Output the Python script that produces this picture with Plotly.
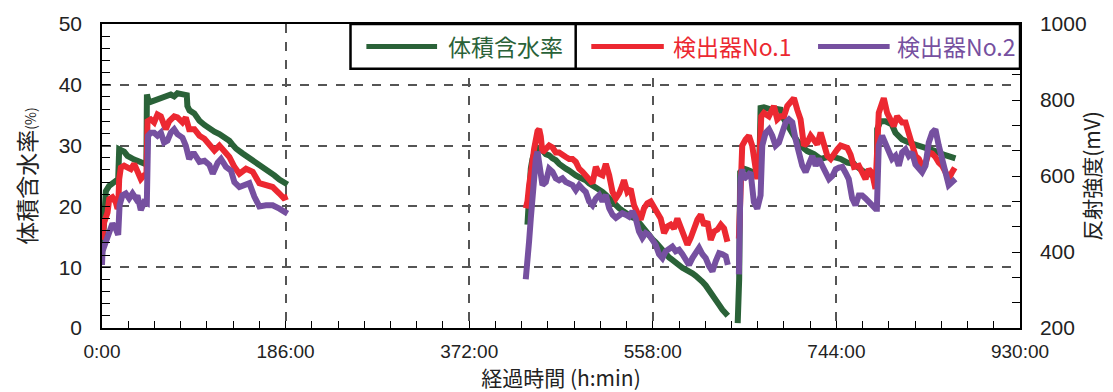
import plotly.graph_objects as go

# Elapsed time (h) and volumetric water content (%) / reflection intensity (mV)
green_t = [0, 1, 2.2, 3.9, 7.3, 10.6, 14, 16.4, 17.4, 19.1, 22.4, 25.8, 29.2, 32.6, 35.9, 39.3, 42.7, 45,
           45.5, 47, 49.4, 52.8, 56.2, 59.6, 62.9, 66.3, 69.7, 73.1, 76.4, 79.5, 81.5, 85.9, 86.5, 88.6,
           93.5, 98.7, 103.8, 108.8, 113.9, 118.9, 124, 129, 132, 135.8, 142.5, 149.3, 156, 162.7, 169.5,
           174.6, 179.7, 184, 188,
           None,
           431, 432.7, 434.4, 436.1, 437.8, 439.5, 441.2, 442.9, 446.2, 449.6, 453, 456.4, 459.7, 463.1,
           466.5, 469.9, 473.2, 476.6, 480, 483.4, 486.8, 490.1, 493.5, 496.9, 500.3, 503.7, 507, 510.4,
           513.8, 517.2, 520.6, 523.9, 527.3, 530.7, 534.1, 537.3, 540.7, 544, 547.4, 550.8, 554.2, 557.6,
           561, 564.3, 567.7, 571.1, 574.5, 577.8, 581.2, 584.6, 588, 591.4, 594.7, 598.1, 601.5, 604.9,
           608.3, 611.6, 615, 618.4, 621.8, 625.2, 628.5, 631.9, 634,
           None,
           644, 645.5, 646.5, 650.3, 653.7, 657.1, 660.4, 663.8, 665.5, 666.5, 667.2, 670.6, 674, 677.3,
           680.7, 684.1, 687.5, 689.2, 690.9, 694.2, 701, 707.7, 714.5, 721.3, 728, 734.8, 741.6, 748.3,
           755.1, 761.8, 763.3, 770.1, 776.8, 783.6, 785, 785.3, 788.6, 793.7, 797.1, 800, 803.8, 810.6,
           817.3, 824.1, 830.8, 837.6, 844.3, 851.1, 857.8, 864.6]
green_v = [11.8, 16, 19.5, 22.5, 23.4, 23.7, 24.0, 24.5, 29.4, 29.3, 29.0, 28.3, 27.9, 27.7, 27.5, 27.2, 27.0, 26.9,
           38.4, 37.5, 37.2, 37.4, 37.8, 37.9, 38.1, 38.2, 38.4, 38.1, 38.6, 38.5, 38.4, 38.3, 36.5, 35.8,
           35.3, 34.1, 33.4, 32.7, 32.3, 31.9, 31.4, 30.8, 30.2, 29.5, 28.7, 28.0, 27.3, 26.5, 25.7,
           25.1, 24.4, 24.0, 23.6,
           None,
           17.0, 22.4, 26.2, 27.8, 28.9, 29.5, 29.6, 29.5, 29.2, 28.6, 28.4, 27.9, 27.6, 27.0,
           26.5, 26.2, 25.9, 25.4, 25.1, 24.8, 24.6, 24.3, 23.8, 23.5, 23.2, 22.9, 22.4, 21.9,
           21.3, 20.8, 20.2, 19.7, 19.3, 18.9, 18.4, 18.2, 18.0, 17.3, 16.6, 15.9, 15.2, 14.6,
           14.1, 13.4, 12.7, 12.1, 11.6, 11.2, 10.7, 10.3, 9.9, 9.6, 9.4, 9.0, 8.6, 8.2,
           7.6, 7.0, 6.3, 5.5, 4.7, 3.8, 3.0, 2.4, 2.0,
           None,
           0.8, 8.0, 25.6, 26.2, 26.0, 25.8, 25.5, 25.3, 25.2, 30.8, 36.2, 36.3, 36.2, 36.0,
           35.8, 36.0, 35.9, 34.8, 34.3, 33.2, 31.6, 30.0, 29.1, 28.6, 27.8, 28.1, 28.1, 27.8,
           27.2, 27.0, 26.7, 25.9, 25.3, 25.1, 25.0, 32.7, 34.0, 34.0, 33.8, 33.5, 32.1, 31.0,
           30.5, 30.2, 29.7, 29.4, 29.1, 28.6, 28.2, 27.9]

det1_t = [0, 0.5, 2.2, 5.6, 7.3, 10.6, 14, 15.7, 16.4, 17.4, 19.1, 22.4, 25.8, 29.2, 32.6, 35.9, 39.3, 42.7, 45,
          46.1, 49.4, 52.8, 56.2, 59.6, 62.9, 64.6, 68, 73.1, 76.4, 81.5, 84.9, 88.3, 93.6, 98.7, 103.8,
          108.8, 113.9, 118.9, 124, 129, 134.1, 139.2, 145.9, 152.7, 159.4, 166.2, 172.9, 179.7, 184, 188,
          None,
          429.3, 431, 432.7, 434.4, 436.1, 437.8, 439.5, 441.2, 442.9, 444.5, 446.2, 449.6, 453, 456.4,
          459.7, 463.1, 466.5, 469.9, 473.2, 476.6, 480, 483.4, 486.8, 490.1, 493.5, 496.9, 500.3, 503.7,
          507, 510.4, 513.8, 517.2, 520.6, 523.9, 527.2, 528.8, 532.2, 535.6, 539, 542.4, 545.7, 549.1,
          552.5, 555.9, 559.3, 562.6, 566, 569.4, 572.8, 576.2, 579.5, 582.9, 586.3, 589.7, 593.1, 596.4,
          599.8, 603.2, 606.6, 610, 613.3, 616.7, 620.1, 623.5, 626.9, 630.2, 633.6,
          None,
          645.2, 646.9, 648.6, 652, 655.4, 658.7, 662.1, 663.8, 665.5, 667.9, 670.6, 675.6, 680.7, 684.1,
          687.5, 690.9, 694.2, 697.6, 701, 704.4, 707.7, 711.1, 714.5, 717.9, 721.3, 724.6, 728, 731.4,
          734.8, 738.2, 741.6, 744.9, 748.3, 751.7, 755.1, 758.4, 761.8, 766.7, 770.1, 773.5, 776.8, 780.2,
          783.6, 785.3, 786.9, 790.3, 792, 795.4, 798.8, 802.1, 805.5, 810.6, 814, 817.3, 820.7, 824.1,
          827.5, 830.8, 834.2, 837.6, 841, 844.3, 847.7, 851.1, 854.5, 857.8, 861.2, 863.9]
det1_mv = [432, 440, 478, 504, 539, 544, 531, 514, 517, 592, 622, 627, 622, 618, 632, 610, 592, 602, 605,
           744, 749, 741, 762, 757, 731, 723, 744, 757, 754, 741, 754, 723, 723, 706, 698,
           680, 667, 680, 667, 650, 624, 606, 619, 611, 581, 576, 571, 554, 542, 546,
           None,
           515, 533, 576, 600, 637, 672, 706, 718, 723, 704, 662, 672, 680, 675,
           662, 662, 654, 650, 645, 645, 637, 619, 611, 602, 589, 581, 624, 606,
           602, 632, 602, 558, 541, 554, 576, 589, 558, 566, 523, 506, 485, 515,
           528, 533, 515, 498, 488, 450, 467, 472, 462, 488, 462, 445, 419, 437,
           462, 485, 498, 470, 480, 432, 454, 459, 472, 462, 427,
           None,
           435, 653, 680, 696, 706, 680, 627, 592, 618, 757, 766, 757, 784, 749,
           757, 757, 784, 792, 805, 774, 749, 680, 688, 706, 693, 683, 714, 680,
           653, 645, 662, 670, 680, 677, 674, 656, 624, 627, 610, 592, 618, 608,
           566, 680, 766, 792, 805, 766, 749, 731, 757, 741, 741, 714, 688, 653,
           645, 627, 632, 662, 659, 650, 635, 627, 610, 592, 610, 622]

det2_t = [0, 0.5, 3.9, 7.3, 10.6, 14, 16.4, 17.8, 20.7, 24.1, 27.5, 30.9, 34.2, 35.9, 39.3, 42.7, 45.4,
          46.7, 49.4, 52.8, 56.2, 59.6, 62.9, 66.3, 69.7, 73.1, 76.4, 81.5, 84.9, 88.3, 91.6, 93.6, 98.7,
          103.8, 108.8, 112.2, 117.2, 120.6, 125.6, 130.7, 134.1, 139.2, 144.2, 149.3, 154.3, 159.4, 166.2,
          172.9, 179.7, 184, 188,
          None,
          429.3, 431, 432.7, 434.4, 436.1, 437.8, 439.5, 441.2, 442.9, 446.2, 449.6, 453, 456.4, 459.7,
          463.1, 466.5, 469.9, 473.2, 476.6, 480, 483.4, 486.8, 490.1, 493.5, 496.9, 500.3, 503.7, 507,
          510.4, 513.8, 517.2, 520.6, 523.9, 527.1, 530.5, 533.9, 537.3, 540.7, 544, 547.4, 550.8, 554.2,
          557.6, 560.9, 564.3, 567.7, 571.1, 574.5, 577.8, 581.2, 584.6, 588, 591.4, 594.7, 598.1, 601.5,
          604.9, 608.3, 611.6, 615, 618.4, 621.8, 625.2, 628.5, 631.9, 634,
          None,
          645.2, 646.9, 648.6, 650.3, 653.7, 657.1, 660.4, 663.8, 667.2, 668.9, 672.3, 675.7, 679, 682.4,
          685.8, 689.2, 692.6, 695.9, 699.3, 702.7, 706.1, 709.4, 712.8, 716.2, 719.6, 723, 726.3, 729.7,
          733.1, 736.5, 739.9, 743.3, 746.6, 750, 753.4, 756.5, 760, 763.3, 766.7, 770.1, 773.5, 776.8,
          780.2, 783.6, 785, 786.9, 790.3, 793.7, 797.1, 800.4, 803.8, 807.2, 810.6, 814, 817.3, 820.7,
          824.1, 827.5, 830.8, 834.2, 837.6, 841, 844.3, 847.7, 851.1, 854.5, 857.8, 861.2, 864.6]
det2_mv = [366, 402, 427, 453, 475, 461, 445, 523, 549, 554, 541, 554, 541, 549, 510, 531, 528,
           706, 714, 714, 706, 714, 688, 693, 714, 723, 710, 701, 680, 645, 658, 658, 637,
           640, 629, 606, 635, 645, 624, 614, 584, 571, 576, 581, 546, 520, 523,
           523, 514, 506, 501,
           None,
           328, 368, 429, 488, 558, 600, 645, 664, 637, 576, 584, 619, 611, 594,
           589, 594, 584, 581, 576, 563, 576, 566, 558, 533, 523, 541, 550, 533,
           550, 515, 498, 490, 498, 502, 498, 493, 507, 488, 454, 437, 450, 445,
           432, 419, 394, 384, 402, 406, 414, 402, 406, 394, 376, 366, 384, 402,
           411, 394, 384, 363, 349, 376, 397, 394, 389, 366,
           None,
           341, 592, 618, 592, 600, 610, 531, 514, 549, 680, 714, 723, 706, 680,
           688, 714, 741, 749, 741, 696, 662, 627, 610, 635, 653, 627, 645, 627,
           610, 592, 600, 618, 622, 624, 608, 592, 541, 523, 549, 549, 541, 531,
           523, 514, 514, 680, 706, 688, 662, 645, 653, 627, 662, 670, 653, 662,
           630, 618, 610, 627, 688, 714, 723, 680, 645, 618, 576, 584, 592]

x_tickvals = [0, 186, 372, 558, 744, 930]
x_ticktext = ["0:00", "186:00", "372:00", "558:00", "744:00", "930:00"]

GREEN = "#2A6238"
RED = "#EC2831"
PURPLE = "#7650A0"
TICK_FONT = dict(family="Liberation Sans, Arial, sans-serif", size=20, color="#222")
CJK = "Noto Sans CJK JP, sans-serif"

fig = go.Figure()
fig.add_trace(go.Scatter(x=green_t, y=green_v, mode="lines", name="体積含水率",
                         line=dict(color=GREEN, width=6), showlegend=False))
fig.add_trace(go.Scatter(x=det1_t, y=det1_mv, mode="lines", name="検出器No.1", yaxis="y2",
                         line=dict(color=RED, width=6), showlegend=False))
fig.add_trace(go.Scatter(x=det2_t, y=det2_mv, mode="lines", name="検出器No.2", yaxis="y2",
                         line=dict(color=PURPLE, width=6), showlegend=False))

fig.update_layout(
    width=1113, height=392,
    margin=dict(l=102, r=91, t=24, b=62),
    paper_bgcolor="white", plot_bgcolor="white",
    xaxis=dict(
        range=[0, 930], tickvals=x_tickvals, ticktext=x_ticktext,
        ticks="inside", ticklen=7, tickcolor="black",
        minor=dict(dtick=186 / 7, tick0=0, ticks="inside", ticklen=7, tickcolor="black"),
        showline=True, linecolor="black", linewidth=1.5, mirror=True,
        showgrid=True, gridcolor="#555", griddash="dash", gridwidth=1.5,
        tickfont=dict(TICK_FONT, size=19), ticklabelstandoff=5, zeroline=False,
        title=dict(text="経過時間 (h:min)", font=dict(family=CJK, size=21, color="#222"), standoff=4),
    ),
    yaxis=dict(
        range=[0, 50], dtick=10, ticks="inside", ticklen=8, tickcolor="black",
        minor=dict(dtick=2, ticks="inside", ticklen=8, tickcolor="black"),
        showline=True, linecolor="black", linewidth=1.5, mirror=True,
        showgrid=True, gridcolor="#555", griddash="dash", gridwidth=1.5,
        tickfont=dict(TICK_FONT, size=21), ticklabelstandoff=14, zeroline=False,
        title=dict(text="体積含水率<span style='font-size:14px'>(%)</span>",
                   font=dict(family=CJK, size=23, color="#222"), standoff=16),
    ),
    yaxis2=dict(
        range=[200, 1000], dtick=200, overlaying="y", side="right",
        ticks="inside", ticklen=8, tickcolor="black",
        minor=dict(dtick=200 / 3, tick0=200, ticks="inside", ticklen=8, tickcolor="black"),
        showline=True, linecolor="black", linewidth=1.5, showgrid=False, zeroline=False,
        tickfont=dict(TICK_FONT, size=21), ticklabelstandoff=14,
        title=dict(text="反射強度(mV)", font=dict(family=CJK, size=21, color="#222"), standoff=0),
    ),
)

# Boxed key in the upper right of the plot area
fig.add_shape(type="rect", xref="paper", yref="paper", x0=0.2707, x1=1.0, y0=0.853, y1=1.0,
              line=dict(color="black", width=2.5), fillcolor="white", layer="above")
fig.add_shape(type="line", xref="paper", yref="paper", x0=0.516, x1=0.516, y0=0.853, y1=1.0,
              line=dict(color="black", width=2.5), layer="above")
key_items = [("体積含水率", GREEN, 0.288, 0.365, 0.375),
             ("検出器No.1", RED, 0.533, 0.612, 0.6196),
             ("検出器No.2", PURPLE, 0.780, 0.858, 0.864)]
for label, color, lx0, lx1, tx in key_items:
    fig.add_shape(type="line", xref="paper", yref="paper", x0=lx0, x1=lx1, y0=0.926, y1=0.926,
                  line=dict(color=color, width=5), layer="above")
    fig.add_annotation(xref="paper", yref="paper", x=tx, y=0.926, text=label, showarrow=False,
                       xanchor="left", yanchor="middle",
                       font=dict(family=CJK, size=23, color=color))

fig.write_html("out.html")
